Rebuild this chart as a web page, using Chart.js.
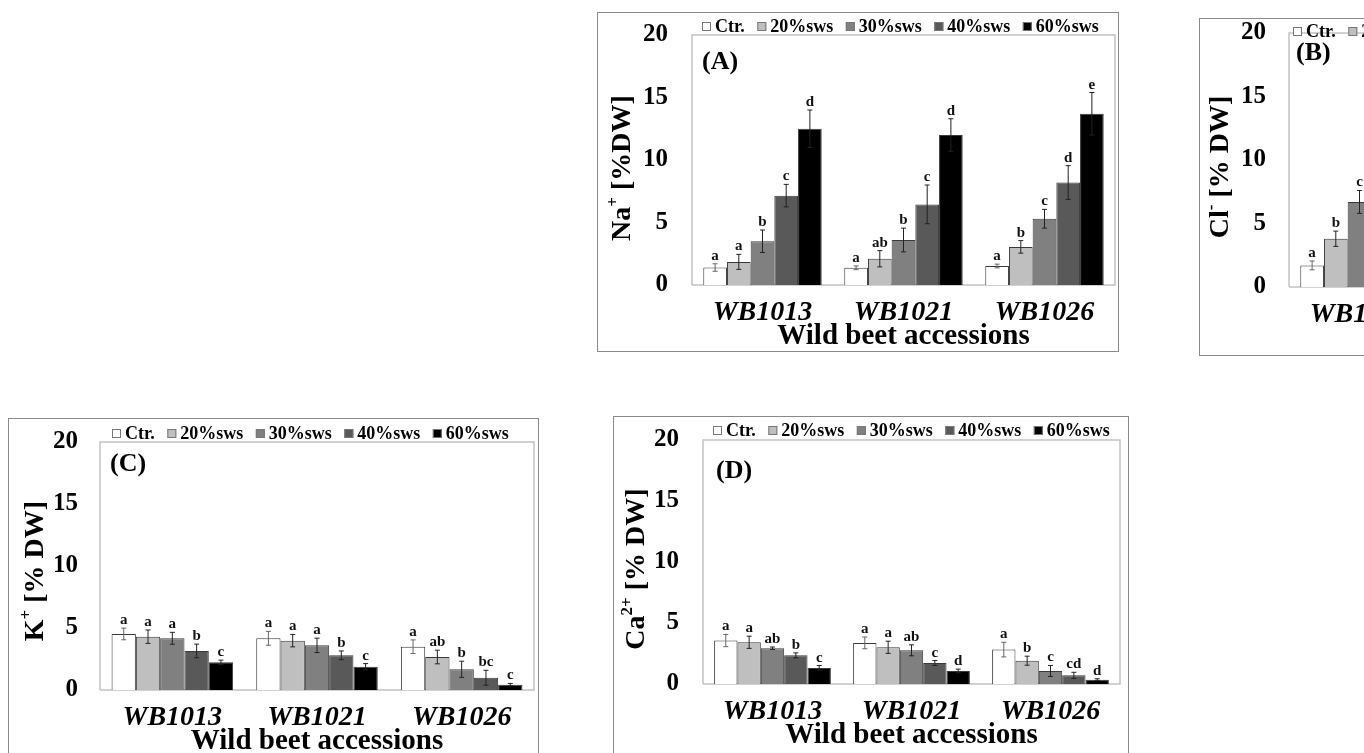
<!DOCTYPE html>
<html>
<head>
<meta charset="utf-8">
<title>Wild beet accessions - ion content</title>
<script src="https://cdn.jsdelivr.net/npm/chart.js@4.4.1/dist/chart.umd.min.js"></script>
<style>
  html, body { margin: 0; padding: 0; background: #fff; }
  body { width: 1364px; height: 753px; overflow: hidden; position: relative; }
  .panel { position: absolute; border: 1px solid #8a8a8a; background: #fff; }
  .panel canvas { position: absolute; left: 0; top: 0; }
</style>
</head>
<body>
<div class="panel" id="panelA"><canvas id="chartA"></canvas></div>
<div class="panel" id="panelB"><canvas id="chartB"></canvas></div>
<div class="panel" id="panelC"><canvas id="chartC"></canvas></div>
<div class="panel" id="panelD"><canvas id="chartD"></canvas></div>
<script>
const categories = ["WB1013", "WB1021", "WB1026"];
const treatments = ["Ctr.", "20%sws", "30%sws", "40%sws", "60%sws"];
const yTicks = [0, 5, 10, 15, 20];

// rows = treatments, columns = accessions
const naMean = [
  [1.4, 1.38, 1.52],
  [1.85, 2.1, 3.05],
  [3.5, 3.6, 5.3],
  [7.15, 6.45, 8.2],
  [12.5, 12.0, 13.7],
];
const naErr = [
  [0.3, 0.15, 0.15],
  [0.6, 0.65, 0.5],
  [0.9, 0.95, 0.75],
  [0.9, 1.55, 1.35],
  [1.5, 1.3, 1.7],
];
const naLetters = [
  ["a", "a", "a"],
  ["a", "ab", "b"],
  ["b", "b", "c"],
  ["c", "c", "d"],
  ["d", "d", "e"],
];

// panel B is cut off by the page edge: only the first three bars can be read
const clMean = [
  [1.7, null, null],
  [3.8, null, null],
  [6.7, null, null],
  [null, null, null],
  [null, null, null],
];
const clErr = [
  [0.35, null, null],
  [0.6, null, null],
  [0.9, null, null],
  [null, null, null],
  [null, null, null],
];
const clLetters = [
  ["a", null, null],
  ["b", null, null],
  ["c", null, null],
  [null, null, null],
  [null, null, null],
];

const kMean = [
  [4.52, 4.17, 3.49],
  [4.3, 3.98, 2.66],
  [4.17, 3.6, 1.67],
  [3.15, 2.8, 0.99],
  [2.23, 1.88, 0.43],
];
const kErr = [
  [0.47, 0.56, 0.55],
  [0.54, 0.5, 0.55],
  [0.48, 0.58, 0.65],
  [0.55, 0.35, 0.6],
  [0.18, 0.25, 0.1],
];
const kLetters = [
  ["a", "a", "a"],
  ["a", "a", "ab"],
  ["a", "a", "b"],
  ["b", "b", "bc"],
  ["c", "c", "c"],
];

const caMean = [
  [3.56, 3.37, 2.82],
  [3.42, 3.01, 1.91],
  [2.93, 2.76, 1.07],
  [2.35, 1.72, 0.71],
  [1.31, 1.07, 0.35],
];
const caErr = [
  [0.5, 0.48, 0.6],
  [0.5, 0.5, 0.37],
  [0.1, 0.45, 0.45],
  [0.2, 0.2, 0.25],
  [0.2, 0.15, 0.08],
];
const caLetters = [
  ["a", "a", "a"],
  ["a", "a", "b"],
  ["ab", "ab", "c"],
  ["b", "c", "cd"],
  ["c", "d", "d"],
];

const SERIF = "'Liberation Serif', 'Times New Roman', serif";
const fills = ["#ffffff", "#bfbfbf", "#808080", "#595959", "#000000"];

// box = outer panel [left, top, width, height]; area = plot area [left, top, right, bottom]
// titleX is a page x coordinate; the other offsets are relative to the plot area
const panels = [
  { key: "A", box: [597, 12, 522, 340], area: [692, 35, 1115, 285],
    means: naMean, errs: naErr, letters: naLetters,
    title: [["Na", 0], ["+", 1], [" [%DW]", 0]], titleX: 623, titleDy: 8,
    tickGap: 24, legendDx: 10, legendDy: -9, tagDx: 10, tagDy: 27 },
  { key: "B", box: [1199, 18, 520, 338], area: [1289, 33, 1712, 287],
    means: clMean, errs: clErr, letters: clLetters,
    title: [["Cl", 0], ["-", 1], [" [% DW]", 0]], titleX: 1221, titleDy: 7,
    tickGap: 23, legendDx: 4, legendDy: -2, tagDx: 7, tagDy: 20 },
  { key: "C", box: [8, 418, 531, 360], area: [100, 442, 534, 690],
    means: kMean, errs: kErr, letters: kLetters,
    title: [["K", 0], ["+", 1], [" [% DW]", 0]], titleX: 36, titleDy: 5,
    tickGap: 22, legendDx: 12, legendDy: -9, tagDx: 10, tagDy: 22 },
  { key: "D", box: [613, 416, 516, 360], area: [703, 440, 1120, 684],
    means: caMean, errs: caErr, letters: caLetters,
    title: [["Ca", 0], ["2+", 1], [" [% DW]", 0]], titleX: 637, titleDy: 7,
    tickGap: 24, legendDx: 10, legendDy: -10, tagDx: 13, tagDy: 31 },
];

const X_AXIS_H = 66;

const panelDeco = {
  id: "panelDeco",
  beforeDatasetsDraw(chart, args, o) {
    const { left, top, right, bottom } = chart.chartArea;
    const ctx = chart.ctx;
    ctx.save();
    ctx.strokeStyle = "#c2c2c2";
    ctx.lineWidth = 1.5;
    ctx.beginPath();
    ctx.moveTo(left, bottom);
    ctx.lineTo(left, top);
    ctx.lineTo(right, top);
    ctx.lineTo(right, bottom);
    ctx.lineTo(left, bottom);
    ctx.stroke();
    ctx.restore();
  },
  afterDatasetsDraw(chart, args, o) {
    const ctx = chart.ctx;
    const y = chart.scales.y;
    ctx.save();
    ctx.lineWidth = 1;
    ctx.textAlign = "center";
    ctx.textBaseline = "alphabetic";
    ctx.font = "bold 15px " + SERIF;
    o.means.forEach((row, i) => {
      const meta = chart.getDatasetMeta(i);
      row.forEach((v, j) => {
        if (v == null) return;
        const e = o.errs[i][j] || 0;
        const x = meta.data[j].x;
        const yTop = y.getPixelForValue(v + e);
        const yBot = y.getPixelForValue(Math.max(0, v - e));
        ctx.strokeStyle = i === 0 ? "#666" : "#222";
        ctx.beginPath();
        ctx.moveTo(x, yTop);
        ctx.lineTo(x, yBot);
        ctx.moveTo(x - 2.5, yTop);
        ctx.lineTo(x + 2.5, yTop);
        ctx.moveTo(x - 2.5, yBot);
        ctx.lineTo(x + 2.5, yBot);
        ctx.stroke();
        const letter = o.letters[i][j];
        if (letter) {
          ctx.fillStyle = "#111";
          ctx.fillText(letter, x, yTop - 4);
        }
      });
    });
    ctx.restore();
  },
  afterDraw(chart, args, o) {
    const { left, top, bottom } = chart.chartArea;
    const ctx = chart.ctx;
    ctx.save();
    ctx.fillStyle = "#000";

    // legend row
    ctx.font = "bold 18px " + SERIF;
    ctx.textAlign = "left";
    ctx.textBaseline = "middle";
    let lx = left + o.legendDx;
    const ly = top + o.legendDy;
    treatments.forEach((t, i) => {
      ctx.fillStyle = fills[i];
      ctx.fillRect(lx, ly - 4, 9, 9);
      ctx.strokeStyle = "#777";
      ctx.lineWidth = 1;
      ctx.strokeRect(lx + 0.5, ly - 3.5, 8, 8);
      lx += 13;
      ctx.fillStyle = "#000";
      ctx.fillText(t, lx, ly + 1);
      lx += ctx.measureText(t).width + 12.5;
    });

    // panel tag
    ctx.font = "bold 26px " + SERIF;
    ctx.fillText("(" + o.key + ")", left + o.tagDx, top + o.tagDy);

    // rotated y title with superscript
    const base = "bold 28px " + SERIF;
    const sup = "bold 17px " + SERIF;
    let total = 0;
    o.title.forEach(([s, isSup]) => {
      ctx.font = isSup ? sup : base;
      total += ctx.measureText(s).width;
    });
    ctx.translate(o.titleX - (o.box[0] + 1), (top + bottom) / 2 + o.titleDy);
    ctx.rotate(-Math.PI / 2);
    let tx = -total / 2;
    o.title.forEach(([s, isSup]) => {
      ctx.font = isSup ? sup : base;
      ctx.fillText(s, tx, isSup ? -9 : 0);
      tx += ctx.measureText(s).width;
    });
    ctx.restore();
  },
};

function makeChart(p) {
  const el = document.getElementById("panel" + p.key);
  const [bl, bt, bw, bh] = p.box;
  el.style.left = bl + "px";
  el.style.top = bt + "px";
  el.style.width = bw - 2 + "px";
  el.style.height = bh - 2 + "px";
  const ox = bl + 1, oy = bt + 1, cw = bw - 2, ch = bh - 2;
  const [L, T, R, B] = p.area;
  const canvas = document.getElementById("chart" + p.key);
  canvas.width = cw;
  canvas.height = ch;
  canvas.style.width = cw + "px";
  canvas.style.height = ch + "px";

  return new Chart(canvas, {
    type: "bar",
    data: {
      labels: categories,
      datasets: treatments.map((t, i) => ({
        label: t,
        data: p.means[i],
        backgroundColor: fills[i],
        borderColor: "#3a3a3a",
        borderWidth: 1,
        barPercentage: 1.0,
        categoryPercentage: 0.84,
      })),
    },
    options: {
      responsive: false,
      animation: false,
      events: [],
      layout: {
        padding: { left: 0, top: T - oy, right: ox + cw - R, bottom: oy + ch - (B + X_AXIS_H) },
      },
      scales: {
        x: {
          offset: true,
          grid: { display: false, drawTicks: false },
          border: { display: false },
          ticks: {
            color: "#000",
            padding: 11,
            font: { family: SERIF, size: 28, weight: "bold", style: "italic", lineHeight: 1.2 },
          },
          title: {
            display: true,
            text: "Wild beet accessions",
            color: "#000",
            padding: { top: 0, bottom: 0 },
            font: { family: SERIF, size: 29, weight: "bold", lineHeight: 1 },
          },
          afterFit: (s) => {
            s.height = X_AXIS_H;
            s.paddingLeft = 0;
            s.paddingRight = 0;
          },
        },
        y: {
          min: 0,
          max: 20,
          grid: { display: false, drawTicks: false },
          border: { display: false },
          afterBuildTicks: (s) => { s.ticks = yTicks.map((v) => ({ value: v })); },
          ticks: {
            color: "#000",
            padding: p.tickGap,
            font: { family: SERIF, size: 25, weight: "bold" },
          },
          afterFit: (s) => {
            s.width = L - ox;
            s.paddingTop = 0;
            s.paddingBottom = 0;
          },
        },
      },
      plugins: {
        legend: { display: false },
        tooltip: { enabled: false },
        panelDeco: p,
      },
    },
    plugins: [panelDeco],
  });
}

panels.forEach(makeChart);
</script>
</body>
</html>
